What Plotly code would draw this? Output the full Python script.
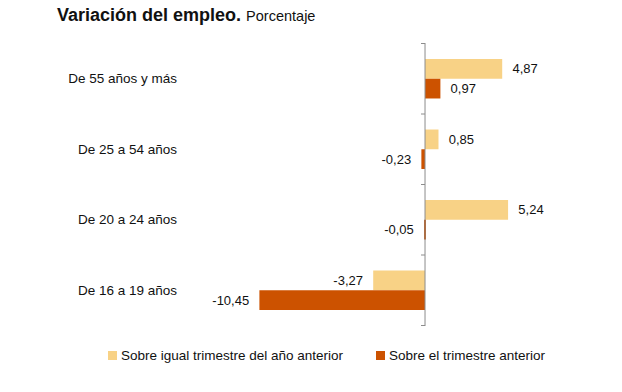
import plotly.graph_objects as go

categories = ["De 55 años y más", "De 25 a 54 años", "De 20 a 24 años", "De 16 a 19 años"]
anual = [4.87, 0.85, 5.24, -3.27]
trimestral = [0.97, -0.23, -0.05, -10.45]
series_names = ["Sobre igual trimestre del año anterior", "Sobre el trimestre anterior"]
colors = ["#F8D286", "#CC5200"]

FONT = "Arial, Liberation Sans, sans-serif"
NB = "\u00a0"
W, H = 622, 392
L, R, T, B = 180, 22, 43, 66
PW, PH = W - L - R, H - T - B


def fmt(v):
    s = f"{v:.2f}".replace(".", ",")
    return (NB + NB + s) if v >= 0 else (s + NB + NB)


def px_x(p):
    return (p - L) / PW


def px_y(p):
    return (H - B - p) / PH


fig = go.Figure()
for name, vals, col in zip(series_names, [anual, trimestral], colors):
    fig.add_trace(go.Bar(
        y=categories, x=vals, orientation="h", name=name,
        marker=dict(color=col, line=dict(width=0)),
        text=[fmt(v) for v in vals], textposition="outside",
        textfont=dict(size=13, color="#111111", family=FONT),
        constraintext="none", cliponaxis=False, showlegend=False,
    ))

xmin, xmax = -15.46, 11.04
shapes = [dict(type="line", xref="x", yref="paper", x0=0, x1=0, y0=0, y1=1,
               line=dict(color="#8c8c8c", width=1))]
for i in range(len(categories) + 1):
    b = i - 0.5
    shapes.append(dict(type="line", xref="x", yref="y", xsizemode="pixel", xanchor=0,
                       x0=-4, x1=0, y0=b, y1=b, line=dict(color="#8c8c8c", width=1)))

# manual legend
annotations = []
legend_pos = [108, 376]
for name, col, lx in zip(series_names, colors, legend_pos):
    shapes.append(dict(type="rect", xref="paper", yref="paper",
                       x0=px_x(lx), x1=px_x(lx + 9), y0=px_y(360), y1=px_y(351),
                       fillcolor=col, line=dict(width=0)))
    annotations.append(dict(text=name, xref="paper", yref="paper", x=px_x(lx + 11), y=px_y(355.5),
                            xanchor="left", yanchor="middle", showarrow=False,
                            font=dict(size=13.5, color="#111111", family=FONT)))

annotations.append(dict(
    text="<b>Variación del empleo.</b> <span style='font-size:14.5px'>Porcentaje</span>",
    xref="paper", yref="paper", x=px_x(55), y=px_y(15), xanchor="left", yanchor="middle",
    showarrow=False, font=dict(size=18, color="#111111", family=FONT)))

fig.update_layout(
    width=W, height=H,
    margin=dict(l=L, r=R, t=T, b=B, autoexpand=False),
    paper_bgcolor="white", plot_bgcolor="white",
    font=dict(family=FONT, size=13, color="#111111"),
    barmode="group", bargap=0.44, bargroupgap=0,
    xaxis=dict(range=[xmin, xmax], showgrid=False, zeroline=False, showticklabels=False,
               showline=False, ticks=""),
    yaxis=dict(autorange="reversed", showgrid=False, zeroline=False, showline=False,
               ticks="", ticklabelstandoff=2, tickfont=dict(size=13.5, color="#111111")),
    shapes=shapes,
    annotations=annotations,
    showlegend=False,
)

fig.write_html("out.html", config={"displayModeBar": False},
               post_script="document.body.style.margin='0';")
